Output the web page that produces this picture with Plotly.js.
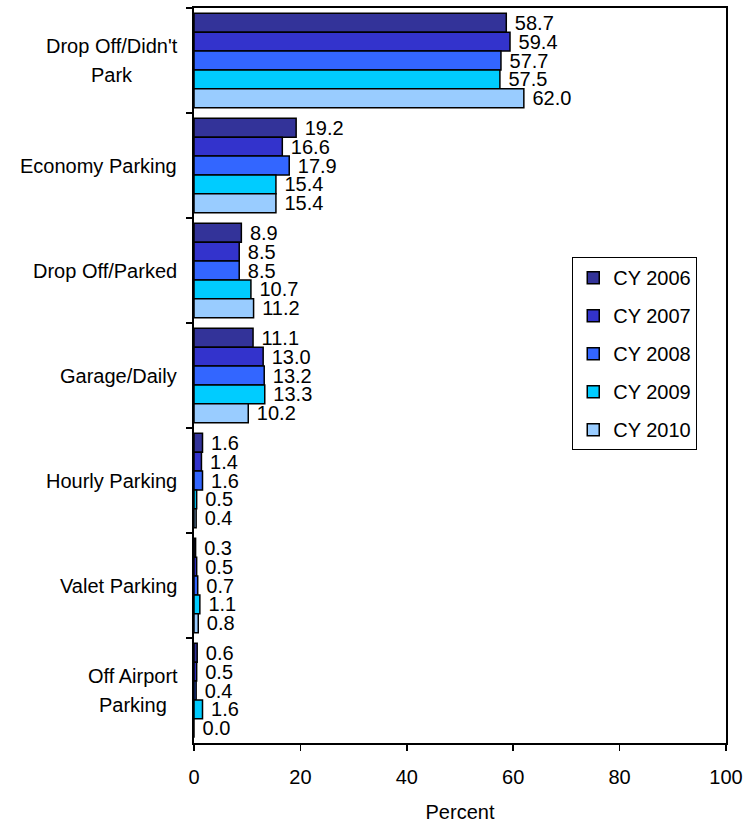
<!DOCTYPE html>
<html>
<head>
<meta charset="utf-8">
<script src="https://cdn.plot.ly/plotly-3.0.1.min.js"></script>
<style>html,body{margin:0;padding:0;background:#fff;}#chart{width:745px;height:823px;}</style>
</head>
<body>
<div id="chart"></div>
<script>
const categories = ["Drop Off/Didn't<br>Park", "Economy Parking", "Drop Off/Parked", "Garage/Daily", "Hourly Parking", "Valet Parking", "Off Airport<br>Parking"];
const seriesNames = ["CY 2006", "CY 2007", "CY 2008", "CY 2009", "CY 2010"];
const cy2006 = [58.7, 19.2, 8.9, 11.1, 1.6, 0.3, 0.6];
const cy2007 = [59.4, 16.6, 8.5, 13.0, 1.4, 0.5, 0.5];
const cy2008 = [57.7, 17.9, 8.5, 13.2, 1.6, 0.7, 0.4];
const cy2009 = [57.5, 15.4, 10.7, 13.3, 0.5, 1.1, 1.6];
const cy2010 = [62.0, 15.4, 11.2, 10.2, 0.4, 0.8, 0.0];
const xTicks = [0, 20, 40, 60, 80, 100];
const colors = ["#333399", "#3333CC", "#3366FF", "#00CCFF", "#99CCFF"];

const FONT = 'Liberation Sans, Arial, sans-serif';
const FS = 20;
const allSeries = [cy2006, cy2007, cy2008, cy2009, cy2010];

const traces = allSeries.map((vals, i) => ({
  type: 'bar',
  orientation: 'h',
  name: seriesNames[i],
  legendgroup: 'g' + i,
  y: categories,
  x: vals,
  text: vals.map(v => '\u00a0' + v.toFixed(1)),
  textposition: 'outside',
  constraintext: 'none',
  cliponaxis: false,
  textfont: {family: FONT, size: FS, color: '#000'},
  marker: {color: colors[i], line: {color: '#000', width: 1.5}},
  hoverinfo: 'none'
}));

// category labels as annotations (centered multi-line like the original)
const cv = document.createElement('canvas').getContext('2d');
cv.font = FS + 'px "Liberation Sans", Arial, sans-serif';
const annotations = [];
categories.forEach(cat => {
  const lines = cat.split('<br>');
  if (lines.length === 1) {
    annotations.push({xref: 'paper', x: 0, xanchor: 'right', xshift: -15,
      yref: 'y', y: cat, yanchor: 'middle', text: cat, showarrow: false,
      font: {family: FONT, size: FS, color: '#000'}});
  } else {
    const maxW = Math.max(...lines.map(l => cv.measureText(l).width));
    const n = lines.length;
    lines.forEach((l, k) => {
      annotations.push({xref: 'paper', x: 0, xanchor: 'center', xshift: -(16 + maxW / 2),
        yref: 'y', y: cat, yanchor: 'middle', yshift: ((n - 1) / 2 - k) * 29,
        text: l, showarrow: false, font: {family: FONT, size: FS, color: '#000'}});
    });
  }
});

const layout = {
  width: 745, height: 823,
  margin: {l: 194, r: 19, t: 8, b: 80},
  paper_bgcolor: '#fff', plot_bgcolor: '#fff',
  font: {family: FONT, size: FS, color: '#000'},
  barmode: 'group', bargap: 0.1, bargroupgap: 0,
  showlegend: true,
  legend: {x: 0.711, y: 0.661, xanchor: 'left', yanchor: 'top',
    bordercolor: '#000', borderwidth: 1, bgcolor: '#fff',
    font: {family: FONT, size: FS, color: '#000'},
    tracegroupgap: 9, traceorder: 'grouped'},
  xaxis: {range: [0, 100], tickvals: xTicks, ticktext: xTicks.map(String),
    ticks: 'outside', ticklen: 6, tickwidth: 1.5, tickcolor: '#000',
    showline: true, linewidth: 2, linecolor: '#000', mirror: true,
    showgrid: false, zeroline: false, ticklabelstandoff: 9,
    tickfont: {family: FONT, size: FS, color: '#000'},
    title: {text: 'Percent', font: {family: FONT, size: FS, color: '#000'}, standoff: 21}},
  yaxis: {type: 'category', autorange: 'reversed', tickson: 'boundaries',
    ticks: 'outside', ticklen: 6, tickwidth: 1.5, tickcolor: '#000',
    showline: true, linewidth: 2, linecolor: '#000', mirror: true,
    showgrid: false, zeroline: false, showticklabels: false},
  annotations: annotations
};

Plotly.newPlot('chart', traces, layout, {displayModeBar: false, staticPlot: true});
</script>
</body>
</html>
